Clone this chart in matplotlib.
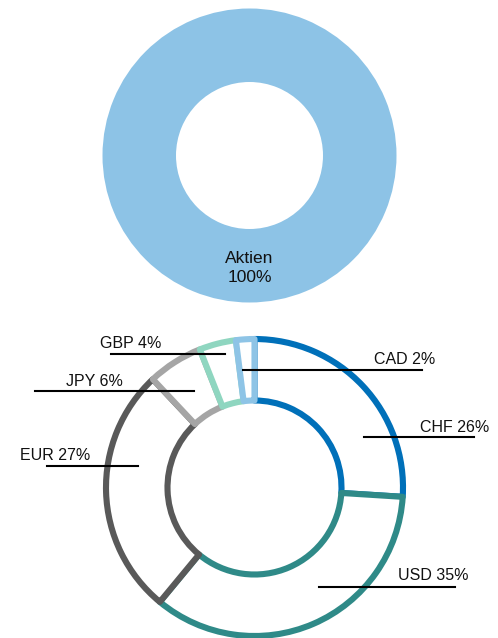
import matplotlib.pyplot as plt

plt.rcParams['font.family'] = ['Liberation Sans', 'DejaVu Sans']

# top donut
top_labels = ["Aktien"]
top_values = [100]

# bottom donut (currencies), clockwise from 12 o'clock
currencies = ["CHF", "USD", "EUR", "JPY", "GBP", "CAD"]
shares = [26, 35, 27, 6, 4, 2]
colors = ["#0070B9", "#2F8A88", "#595959", "#A5A5A5", "#8FD6C0", "#8EC4E6"]

# label layout in image pixels: text left x, text centre y, line x0, line x1, line y
label_pos = {
    "CHF": (420, 427, 364, 474, 437),
    "USD": (398, 576, 319, 455, 587),
    "EUR": (20, 455, 47, 138, 466),
    "JPY": (66, 381, 35, 194, 391),
    "GBP": (100, 343, 111, 225, 354),
    "CAD": (374, 360, 243, 422, 370),
}

W, H = 498, 638
fig = plt.figure(figsize=(W / 100, H / 100), dpi=100)
ax = fig.add_axes([0, 0, 1, 1])

# top: single-share donut
ax.pie(top_values, colors=["#8DC3E6"], startangle=90, counterclock=False,
       center=(249.5, H - 155.5), radius=147,
       wedgeprops=dict(width=73.5, edgecolor='none'))
ax.text(249.5, H - 268, f"{top_labels[0]}\n{top_values[0]}%", ha='center', va='center',
        fontsize=12.5, color='#111111', linespacing=1.3)

# bottom: outlined donut
wedges, _ = ax.pie(shares, startangle=90, counterclock=False,
                   center=(254.5, H - 487.5), radius=148.5,
                   wedgeprops=dict(width=61.5))
for w, c in zip(wedges, colors):
    w.set_facecolor('white')
    w.set_edgecolor(c)
    w.set_linewidth(4.4)
    w.set_joinstyle('round')

for name, val in zip(currencies, shares):
    tx, ty, x0, x1, ly = label_pos[name]
    ax.plot([x0, x1], [H - ly, H - ly], color='black', lw=1.5, zorder=5)
    ax.text(tx, H - ty, f"{name} {val}%", ha='left', va='center', fontsize=11.5,
            color='#111111', zorder=6)

# pie() resets the limits, so set them afterwards
ax.set_xlim(0, W)
ax.set_ylim(0, H)
ax.set_aspect('equal')
ax.axis('off')

fig.savefig("out.png", dpi=100)
